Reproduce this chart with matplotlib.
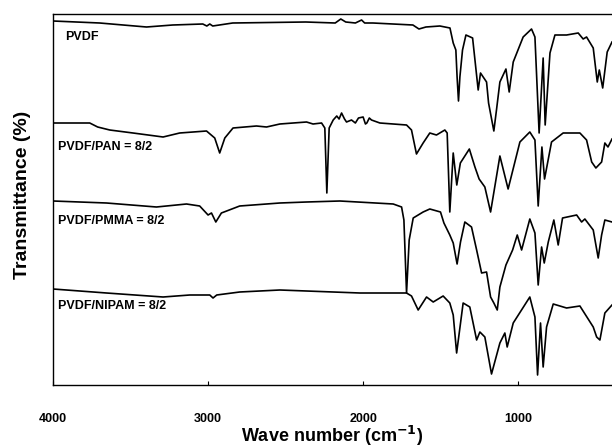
import numpy as np
import matplotlib.pyplot as plt

plt.rcParams['font.family'] = ['Liberation Sans', 'DejaVu Sans']
plt.rcParams['font.weight'] = 'bold'

# FTIR spectra (wave number in cm-1, transmittance in arbitrary offset units)
wn_pvdf = [4000, 3699, 3397, 3228, 3034, 3008, 2989, 2970, 2841, 2370, 2180, 2144, 2112, 2050,
           2010, 1990, 1937, 1679, 1640, 1595, 1505, 1440, 1419, 1402, 1394, 1385, 1376, 1359,
           1337, 1294, 1258, 1243, 1204, 1191, 1157, 1140, 1118, 1079, 1058, 1032, 968, 914,
           892, 865, 839, 826, 795, 763, 688, 613, 581, 559, 516, 490, 477, 455, 426, 395]
t_pvdf = [364, 362, 358, 360, 361, 359, 361, 359, 362, 363, 362, 366, 363, 362,
          365, 362, 362, 360, 356, 358, 359, 357, 342, 335, 308, 284, 308, 335,
          350, 347, 295, 312, 303, 282, 254, 275, 303, 316, 293, 323, 348, 356,
          348, 252, 327, 260, 332, 350, 350, 352, 346, 348, 337, 303, 315, 297, 333, 343]

wn_pan = [4000, 3763, 3712, 3634, 3484, 3290, 3183, 3010, 2957, 2925, 2892, 2839, 2688, 2623,
          2537, 2365, 2323, 2268, 2247, 2234, 2219, 2193, 2170, 2155, 2139, 2120, 2107, 2075,
          2050, 2030, 2000, 1985, 1976, 1960, 1946, 1892, 1720, 1688, 1656, 1613, 1570, 1527,
          1473, 1458, 1441, 1419, 1396, 1373, 1315, 1279, 1252, 1215, 1178, 1118, 1065, 989,
          925, 892, 871, 847, 830, 785, 710, 602, 559, 526, 499, 462, 441, 421, 395]
t_pan = [262, 262, 258, 255, 252, 248, 252, 254, 247, 232, 247, 257, 259, 258,
         261, 263, 261, 262, 257, 192, 257, 265, 269, 266, 272, 266, 263, 265,
         262, 267, 268, 261, 262, 267, 265, 262, 260, 255, 231, 242, 252, 250,
         255, 252, 173, 232, 200, 222, 236, 218, 206, 198, 173, 229, 196, 243,
         253, 245, 179, 238, 206, 243, 252, 252, 245, 223, 217, 223, 242, 238, 246]

wn_pmma = [4000, 3655, 3333, 3139, 3054, 3000, 2978, 2950, 2914, 2796, 2537, 2365, 2150, 1806,
           1752, 1737, 1720, 1703, 1677, 1613, 1570, 1501, 1479, 1441, 1419, 1394, 1372, 1344,
           1301, 1268, 1236, 1204, 1178, 1157, 1135, 1118, 1079, 1036, 1006, 978, 925, 892,
           871, 849, 832, 806, 770, 742, 714, 623, 591, 570, 516, 484, 462, 441, 395]
t_pmma = [184, 182, 178, 181, 179, 170, 172, 163, 172, 179, 182, 183, 184, 181,
          178, 165, 92, 145, 167, 173, 176, 173, 162, 150, 142, 121, 143, 163,
          158, 135, 112, 113, 88, 82, 75, 98, 120, 135, 150, 135, 166, 152,
          100, 138, 122, 143, 165, 140, 167, 170, 163, 166, 155, 127, 150, 165, 163]

wn_nipam = [4000, 3655, 3290, 3118, 2989, 2968, 2944, 2796, 2537, 2021, 1720, 1688, 1645, 1591,
            1548, 1484, 1441, 1419, 1397, 1355, 1312, 1268, 1247, 1215, 1172, 1118, 1086, 1071,
            1032, 925, 892, 875, 856, 839, 817, 774, 688, 602, 516, 494, 473, 441, 395]
t_nipam = [96, 92, 88, 90, 90, 87, 90, 93, 95, 92, 92, 89, 75, 88,
           83, 89, 82, 70, 32, 82, 78, 45, 53, 48, 11, 42, 52, 38,
           62, 88, 68, 10, 62, 18, 58, 81, 77, 79, 58, 48, 45, 72, 80]

labels = ['PVDF', 'PVDF/PAN = 8/2', 'PVDF/PMMA = 8/2', 'PVDF/NIPAM = 8/2']
label_pos = [(0.022, 0.938), (0.009, 0.642), (0.009, 0.442), (0.009, 0.213)]

fig = plt.figure(figsize=(6.12, 4.47), dpi=100)
ax = fig.add_axes([53 / 612, 62 / 447, 559 / 612, 371 / 447])

for wn, t in [(wn_pvdf, t_pvdf), (wn_pan, t_pan), (wn_pmma, t_pmma), (wn_nipam, t_nipam)]:
    ax.plot(wn, t, color='black', lw=1.2)

for lab, (x, y) in zip(labels, label_pos):
    ax.text(x, y, lab, transform=ax.transAxes, fontsize=9, fontweight='bold',
            ha='left', va='center')

ax.set_xlim(4000, 395)
ax.set_ylim(0, 371)
ax.set_xticks([4000, 3000, 2000, 1000])
ax.set_yticks([])
ax.tick_params(axis='x', direction='in', length=3, pad=20, labelsize=9)
for lbl in ax.get_xticklabels():
    lbl.set_fontweight('bold')
ax.spines['right'].set_visible(False)
for s in ['left', 'top', 'bottom']:
    ax.spines[s].set_linewidth(1.0)

ax.set_xlabel('Wave number (cm$^{\\mathbf{-1}}$)', fontsize=13, fontweight='bold', va='baseline')
ax.xaxis.set_label_coords(0.499, -0.154)
ax.set_ylabel('Transmittance (%)', fontsize=14, fontweight='bold', va='center')
ax.yaxis.set_label_coords(-0.054, 0.512)

fig.savefig('out.png', dpi=100)
